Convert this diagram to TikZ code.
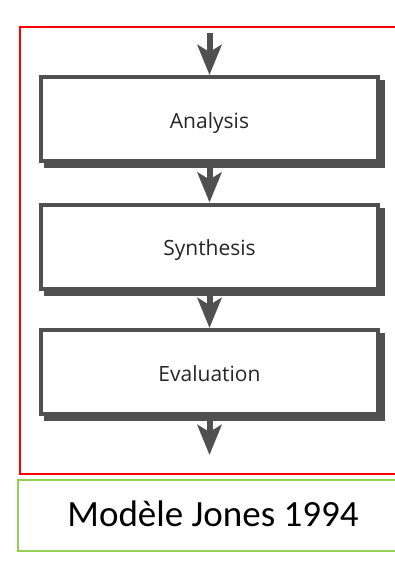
\documentclass[tikz,border=0pt]{standalone}
\usepackage{fontspec}
\setmainfont{Carlito}
\newfontfamily\boxfont{Open Sans}
\usetikzlibrary{arrows.meta,calc,backgrounds}
\definecolor{boxgray}{HTML}{505050}
\definecolor{labgray}{HTML}{262626}
\definecolor{framered}{HTML}{FF0000}
\definecolor{framegreen}{HTML}{92D050}
\begin{document}
\begin{tikzpicture}[x=1pt,y=-1pt,
  stepbox/.style={draw=boxgray, line width=4pt, fill=white, minimum width=337pt, minimum height=84pt, inner sep=0pt,
    text depth=0pt, text height=18pt,
    font=\boxfont\fontsize{21}{24}\selectfont, text=labgray},
  flow/.style={draw=boxgray, line width=6pt, -{Stealth[length=30pt,width=24pt,inset=7pt]}},
  shadowfill/.style={fill=boxgray}]
\useasboundingbox (0,0) rectangle (395,563);
\clip (0,0) rectangle (395,563);
% frames
\node[draw=framered, line width=2pt, minimum width=400pt, minimum height=447pt, anchor=north west, inner sep=0pt] (frame) at (18.5,26) {};
\node[draw=framegreen, line width=2pt, minimum width=400pt, minimum height=71pt, anchor=north west, inner sep=0pt] (capbox) at (16.5,478.5) {};
\node[font=\fontsize{37}{40}\selectfont, text=black] (cap) at (213,514) {Modèle Jones 1994};
% boxes
\node[stepbox] (an) at (209.5,119) {Analysis};
\node[stepbox] (sy) at (209.5,246.5) {Synthesis};
\node[stepbox] (ev) at (209.5,372) {Evaluation};
\begin{scope}[on background layer]
  \fill[white] (0,0) rectangle (395,563);
  \foreach \b in {an,sy,ev}
    \fill[shadowfill] ($(\b.south west)+(5,5)$) rectangle ($(\b.north east)+(5,5)$);
\end{scope}
% arrows
\coordinate (start) at (209.5,33);
\coordinate (finish) at (209.5,455);
\draw[flow] (start) -- (an.north);
\draw[flow] (an.south) -- (sy.north);
\draw[flow] (sy.south) -- (ev.north);
\draw[flow] (ev.south) -- (finish);
\end{tikzpicture}
\end{document}
